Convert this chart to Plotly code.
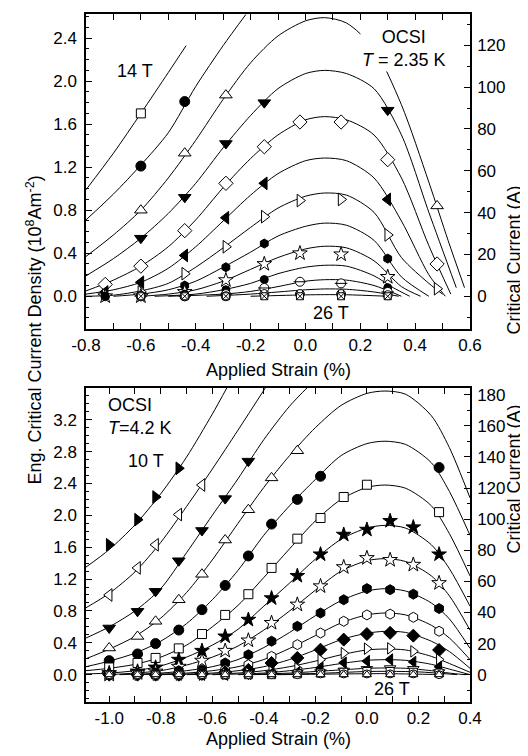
import plotly.graph_objects as go

# ---------------- top panel : OCSI, T = 2.35 K (J in 1e8 A/m2) ----------------
top_strain = [-0.73, -0.60, -0.44, -0.29, -0.15, -0.02, 0.13, 0.30, 0.48]
top_fields = [14, 15, 16, 17, 18, 19, 20, 21, 22, 23, 24, 25, 26]

tm14 = [None, 1.70, None, None, None, None, None, None, None]
tm15 = [None, 1.21, 1.81, None, None, None, None, None, None]
tm16 = [None, 0.80, 1.33, 1.87, None, None, None, None, 0.84]
tm17 = [None, 0.54, 0.92, 1.42, 1.80, None, None, 1.73, None]
tm18 = [0.11, 0.28, 0.61, 1.05, 1.39, 1.62, 1.62, 1.27, 0.30]
tm19 = [0.04, 0.13, 0.38, 0.73, 1.05, None, None, 0.90, None]
tm20 = [0.01, 0.04, 0.21, 0.46, 0.74, 0.89, 0.90, 0.57, 0.07]
tm21 = [0.00, 0.01, 0.10, 0.27, 0.49, None, None, 0.35, None]
tm22 = [0.00, 0.00, 0.04, 0.15, 0.30, 0.40, 0.39, 0.18, None]
tm23 = [0.00, 0.00, 0.02, 0.06, 0.155, None, None, 0.08, None]
tm24 = [None, 0.00, 0.00, 0.02, 0.077, 0.135, 0.12, 0.04, None]
tm25 = [None, 0.00, 0.00, 0.00, 0.02, 0.02, 0.02, 0.01, None]
tm26 = [None, 0.00, 0.00, 0.00, 0.00, 0.00, 0.00, 0.00, None]

tc14_x = [-0.8, -0.7, -0.6, -0.5, -0.435]
tc14_j = [0.99, 1.33, 1.70, 2.08, 2.33]
tc15_x = [-0.8, -0.7, -0.6, -0.5, -0.4, -0.3, -0.217]
tc15_j = [0.71, 0.95, 1.22, 1.52, 1.95, 2.33, 2.62]
tc16_x = [-0.8, -0.7, -0.6, -0.5, -0.4, -0.3, -0.2, -0.1, 0.0, 0.07, 0.15, 0.25, 0.35, 0.45, 0.52, 0.58]
tc16_j = [0.37, 0.57, 0.80, 1.10, 1.45, 1.83, 2.17, 2.42, 2.56, 2.59, 2.54, 2.30, 1.78, 1.06, 0.52, 0.08]
tc17_x = [-0.8, -0.7, -0.6, -0.5, -0.4, -0.3, -0.2, -0.1, 0.0, 0.07, 0.15, 0.25, 0.35, 0.45, 0.55]
tc17_j = [0.19, 0.35, 0.54, 0.77, 1.05, 1.38, 1.68, 1.93, 2.07, 2.10, 2.07, 1.93, 1.50, 0.78, 0.08]
tc18_x = [-0.8, -0.7, -0.6, -0.5, -0.4, -0.3, -0.2, -0.1, 0.0, 0.07, 0.15, 0.25, 0.35, 0.45, 0.53]
tc18_j = [0.05, 0.15, 0.28, 0.46, 0.71, 1.01, 1.28, 1.50, 1.64, 1.67, 1.64, 1.50, 1.10, 0.47, 0.02]
tc19_x = [-0.8, -0.7, -0.6, -0.5, -0.4, -0.3, -0.2, -0.1, 0.0, 0.07, 0.15, 0.25, 0.35, 0.45, 0.51]
tc19_j = [0.02, 0.06, 0.13, 0.26, 0.46, 0.70, 0.94, 1.14, 1.26, 1.285, 1.26, 1.10, 0.70, 0.20, 0.0]
tc20_x = [-0.8, -0.7, -0.6, -0.5, -0.4, -0.3, -0.2, -0.1, 0.0, 0.07, 0.15, 0.25, 0.35, 0.45, 0.5]
tc20_j = [0.0, 0.01, 0.05, 0.12, 0.27, 0.45, 0.64, 0.82, 0.93, 0.96, 0.94, 0.78, 0.36, 0.12, 0.02]
tc21_x = [-0.7, -0.6, -0.5, -0.4, -0.3, -0.2, -0.1, 0.0, 0.07, 0.15, 0.25, 0.35, 0.45]
tc21_j = [0.0, 0.02, 0.06, 0.14, 0.27, 0.41, 0.56, 0.65, 0.68, 0.66, 0.52, 0.18, 0.0]
tc22_x = [-0.6, -0.5, -0.4, -0.3, -0.2, -0.1, 0.0, 0.07, 0.15, 0.25, 0.35, 0.42]
tc22_j = [0.0, 0.02, 0.06, 0.14, 0.25, 0.36, 0.44, 0.465, 0.45, 0.33, 0.09, 0.0]
tc23_x = [-0.55, -0.4, -0.3, -0.2, -0.1, 0.0, 0.07, 0.15, 0.25, 0.32, 0.38]
tc23_j = [0.0, 0.02, 0.06, 0.12, 0.21, 0.27, 0.288, 0.28, 0.19, 0.08, 0.0]
tc24_x = [-0.5, -0.3, -0.2, -0.1, 0.0, 0.07, 0.15, 0.25, 0.35]
tc24_j = [0.0, 0.02, 0.045, 0.09, 0.14, 0.154, 0.15, 0.10, 0.0]
tc25_x = [-0.36, -0.2, -0.1, 0.0, 0.07, 0.15, 0.25, 0.34]
tc25_j = [0.0, 0.02, 0.04, 0.06, 0.068, 0.065, 0.04, 0.0]
tc26_x = [-0.2, 0.0, 0.07, 0.15, 0.3]
tc26_j = [0.0, 0.013, 0.015, 0.014, 0.0]

# ---------------- bottom panel : OCSI, T = 4.2 K ----------------
bot_strain = [-1.0, -0.89, -0.82, -0.73, -0.64, -0.55, -0.46, -0.37, -0.27, -0.18, -0.09, 0.0, 0.09, 0.18, 0.28]
bot_fields = [10, 11, 12, 13, 14, 15, 16, 17, 18, 19, 20, 21, 22, 23, 24, 25, 26]

bm10 = [1.63, 1.945, 2.23, 2.59, None, None, None, None, None, None, None, None, None, None, None]
bm11 = [1.00, 1.34, 1.63, 2.01, 2.38, None, None, None, None, None, None, None, None, None, None]
bm12 = [0.586, 0.795, 1.046, 1.43, 1.81, 2.21, 2.68, None, None, None, None, None, None, None, None]
bm13 = [0.335, 0.48, 0.67, 0.94, 1.26, 1.69, 2.07, 2.47, 2.81, None, None, None, None, None, None]
bm14 = [0.176, 0.26, 0.39, 0.56, 0.816, 1.12, 1.49, 1.89, 2.20, 2.49, None, None, None, None, 2.60]
bm15 = [0.09, 0.147, 0.21, 0.33, 0.51, 0.75, 1.01, 1.34, 1.707, 1.966, 2.23, 2.384, None, None, 2.04]
bm16 = [0.02, 0.04, 0.09, 0.188, 0.30, 0.48, 0.69, 0.96, 1.24, 1.51, 1.757, 1.82, 1.93, 1.85, 1.51]
bm17 = [0.0, 0.02, 0.04, 0.10, 0.176, 0.30, 0.43, 0.65, 0.88, 1.11, 1.35, 1.464, 1.44, 1.38, 1.15]
bm18 = [0.0, 0.0, 0.02, 0.05, 0.06, 0.147, 0.25, 0.42, 0.607, 0.774, 0.94, 1.08, 1.067, 1.01, 0.83]
bm19 = [0.0, 0.0, 0.0, 0.02, 0.03, 0.06, 0.125, 0.23, 0.377, 0.523, 0.67, 0.75, 0.76, 0.72, 0.545]
bm20 = [0.0, 0.0, 0.0, 0.0, 0.01, 0.03, 0.06, 0.147, 0.21, 0.314, 0.44, 0.51, 0.525, 0.49, 0.31]
bm21 = [None, 0.0, 0.0, 0.0, 0.0, 0.01, 0.02, 0.04, 0.08, 0.188, 0.27, 0.326, 0.33, 0.293, 0.19]
bm22 = [None, None, 0.0, 0.0, 0.0, 0.0, 0.01, 0.02, 0.03, 0.084, 0.15, 0.17, 0.19, 0.16, 0.10]
bm23 = [None, None, None, 0.0, 0.0, 0.0, 0.0, 0.01, 0.02, 0.03, 0.05, 0.07, 0.08, 0.07, 0.03]
bm24 = [0.0, 0.0, 0.0, 0.0, 0.0, 0.0, 0.0, 0.0, 0.01, 0.02, 0.03, 0.04, 0.04, 0.03, 0.02]
bm25 = [0.0, 0.0, 0.0, 0.0, 0.0, 0.0, 0.0, 0.0, 0.0, 0.01, 0.01, 0.01, 0.01, 0.01, 0.0]
bm26 = [0.0, 0.0, 0.0, 0.0, 0.0, 0.0, 0.0, 0.0, 0.0, 0.0, 0.0, 0.0, 0.0, 0.0, 0.0]

bgrid = [-1.09, -1.0, -0.9, -0.8, -0.7, -0.6, -0.5, -0.4, -0.3, -0.2, -0.1, 0.0, 0.07, 0.15, 0.25, 0.32, 0.4]
bc10_x = [-1.09, -1.0, -0.9, -0.8, -0.7, -0.6, -0.54]
bc10_j = [1.35, 1.57, 1.88, 2.27, 2.73, 3.27, 3.62]
bc11_x = [-1.09, -1.0, -0.9, -0.8, -0.7, -0.6, -0.5, -0.39]
bc11_j = [0.84, 1.02, 1.29, 1.66, 2.11, 2.58, 3.07, 3.62]
bc12_x = [-1.09, -1.0, -0.9, -0.8, -0.7, -0.6, -0.5, -0.4, -0.3, -0.226]
bc12_j = [0.46, 0.60, 0.80, 1.08, 1.53, 2.00, 2.46, 2.95, 3.37, 3.62]
bc13_j = [0.20, 0.32, 0.48, 0.71, 1.03, 1.44, 1.90, 2.35, 2.75, 3.10, 3.38, 3.53, 3.56, 3.52, 3.25, 2.85, 2.22]
bc14_j = [0.10, 0.17, 0.27, 0.42, 0.64, 0.94, 1.31, 1.75, 2.12, 2.45, 2.75, 2.90, 2.93, 2.89, 2.66, 2.30, 1.75]
bc15_j = [0.05, 0.08, 0.13, 0.22, 0.37, 0.60, 0.87, 1.22, 1.58, 1.93, 2.20, 2.35, 2.38, 2.34, 2.12, 1.77, 1.24]
bc16_j = [0.01, 0.02, 0.05, 0.11, 0.22, 0.37, 0.57, 0.86, 1.15, 1.45, 1.70, 1.84, 1.874, 1.84, 1.63, 1.33, 0.86]
bc17_x = [-1.0, -0.9, -0.8, -0.7, -0.6, -0.5, -0.4, -0.3, -0.2, -0.1, 0.0, 0.07, 0.15, 0.25, 0.32, 0.4]
bc17_j = [0.0, 0.02, 0.05, 0.12, 0.22, 0.36, 0.56, 0.80, 1.06, 1.30, 1.43, 1.456, 1.42, 1.24, 0.99, 0.56]
bc18_x = [-0.96, -0.8, -0.7, -0.6, -0.5, -0.4, -0.3, -0.2, -0.1, 0.0, 0.07, 0.15, 0.25, 0.32, 0.4]
bc18_j = [0.0, 0.02, 0.05, 0.10, 0.19, 0.34, 0.53, 0.74, 0.93, 1.05, 1.079, 1.05, 0.90, 0.70, 0.33]
bc19_x = [-0.9, -0.7, -0.6, -0.5, -0.4, -0.3, -0.2, -0.1, 0.0, 0.07, 0.15, 0.25, 0.32, 0.4]
bc19_j = [0.0, 0.02, 0.05, 0.10, 0.19, 0.33, 0.49, 0.65, 0.75, 0.774, 0.75, 0.62, 0.46, 0.19]
bc20_x = [-0.8, -0.6, -0.5, -0.4, -0.3, -0.2, -0.1, 0.0, 0.07, 0.15, 0.25, 0.32, 0.4]
bc20_j = [0.0, 0.02, 0.05, 0.10, 0.19, 0.31, 0.44, 0.52, 0.544, 0.53, 0.42, 0.29, 0.08]
bc21_x = [-0.7, -0.5, -0.4, -0.3, -0.2, -0.1, 0.0, 0.07, 0.15, 0.25, 0.32, 0.4]
bc21_j = [0.0, 0.02, 0.05, 0.10, 0.17, 0.25, 0.31, 0.322, 0.31, 0.23, 0.14, 0.03]
bc22_x = [-0.6, -0.4, -0.3, -0.2, -0.1, 0.0, 0.07, 0.15, 0.25, 0.32, 0.4]
bc22_j = [0.0, 0.02, 0.05, 0.09, 0.14, 0.18, 0.188, 0.18, 0.13, 0.07, 0.0]
bc23_x = [-0.5, -0.3, -0.2, -0.1, 0.0, 0.07, 0.15, 0.25, 0.32, 0.38]
bc23_j = [0.0, 0.02, 0.04, 0.06, 0.08, 0.084, 0.08, 0.05, 0.02, 0.0]
bc24_x = [-0.45, -0.2, 0.0, 0.07, 0.2, 0.35]
bc24_j = [0.0, 0.015, 0.04, 0.042, 0.035, 0.0]
bc25_x = [-0.35, 0.0, 0.07, 0.3]
bc25_j = [0.0, 0.012, 0.013, 0.0]

# right axis: critical current (A) per unit of J
top_amps_per_j = 51.43
bot_amps_per_j = 51.23

FONT = "Liberation Sans, Arial, sans-serif"

top_curves = [(tc14_x, tc14_j), (tc15_x, tc15_j), (tc16_x, tc16_j), (tc17_x, tc17_j),
              (tc18_x, tc18_j), (tc19_x, tc19_j), (tc20_x, tc20_j), (tc21_x, tc21_j),
              (tc22_x, tc22_j), (tc23_x, tc23_j), (tc24_x, tc24_j), (tc25_x, tc25_j),
              (tc26_x, tc26_j)]
top_marks = [tm14, tm15, tm16, tm17, tm18, tm19, tm20, tm21, tm22, tm23, tm24, tm25, tm26]
# (symbol, fill, size)
top_style = [("square", "white", 9), ("circle", "black", 10), ("triangle-up", "white", 11),
             ("triangle-down", "black", 11), ("diamond", "white", 11), ("triangle-left", "black", 11),
             ("triangle-right", "white", 11), ("hexagon", "black", 9), ("star", "white", 11),
             ("circle", "black", 8), ("circle", "white", 9), ("circle-x", "white", 9),
             ("square-x", "white", 7)]

bot_curves = [(bc10_x, bc10_j), (bc11_x, bc11_j), (bc12_x, bc12_j), (bgrid, bc13_j),
              (bgrid, bc14_j), (bgrid, bc15_j), (bgrid, bc16_j), (bc17_x, bc17_j),
              (bc18_x, bc18_j), (bc19_x, bc19_j), (bc20_x, bc20_j), (bc21_x, bc21_j),
              (bc22_x, bc22_j), (bc23_x, bc23_j), (bc24_x, bc24_j), (bc25_x, bc25_j)]
bot_marks = [bm10, bm11, bm12, bm13, bm14, bm15, bm16, bm17, bm18, bm19, bm20, bm21,
             bm22, bm23, bm24, bm25, bm26]
bot_style = [("triangle-right", "black", 11), ("triangle-left", "white", 11), ("triangle-down", "black", 11),
             ("triangle-up", "white", 11), ("circle", "black", 10), ("square", "white", 9),
             ("star", "black", 11), ("star", "white", 11), ("hexagon", "black", 10),
             ("hexagon", "white", 10), ("diamond", "black", 10), ("triangle-right", "white", 10),
             ("triangle-left", "black", 10), ("triangle-down", "white", 10), ("square", "white", 8),
             ("circle", "white", 8), ("triangle-up", "white", 8)]

fig = go.Figure()

for xs, js in top_curves:
    fig.add_trace(go.Scatter(x=xs, y=js, mode="lines", xaxis="x", yaxis="y",
                             line=dict(color="black", width=1, shape="spline", smoothing=0.8),
                             hoverinfo="skip"))
for xs, js in bot_curves:
    fig.add_trace(go.Scatter(x=xs, y=js, mode="lines", xaxis="x2", yaxis="y2",
                             line=dict(color="black", width=1, shape="spline", smoothing=0.8),
                             hoverinfo="skip"))

for f, m, (sym, fill, sz) in zip(top_fields, top_marks, top_style):
    fig.add_trace(go.Scatter(x=top_strain, y=m, mode="markers", xaxis="x", yaxis="y", name=f"{f} T",
                             marker=dict(symbol=sym, size=sz, color=fill,
                                         line=dict(color="black", width=1))))
    if f == 24:
        # circle with a horizontal bar
        fig.add_trace(go.Scatter(x=top_strain, y=m, mode="markers", xaxis="x", yaxis="y",
                                 marker=dict(symbol="line-ew", size=9, line=dict(color="black", width=1))))

for f, m, (sym, fill, sz) in zip(bot_fields, bot_marks, bot_style):
    fig.add_trace(go.Scatter(x=bot_strain, y=m, mode="markers", xaxis="x2", yaxis="y2", name=f"{f} T",
                             marker=dict(symbol=sym, size=sz, color=fill,
                                         line=dict(color="black", width=1))))

# empty traces so the right-hand current axes are drawn
fig.add_trace(go.Scatter(x=[None], y=[None], xaxis="x", yaxis="y3"))
fig.add_trace(go.Scatter(x=[None], y=[None], xaxis="x2", yaxis="y4"))

top_xt = [-0.8, -0.6, -0.4, -0.2, 0.0, 0.2, 0.4, 0.6]
bot_xt = [-1.0, -0.8, -0.6, -0.4, -0.2, 0.0, 0.2, 0.4]

axis_common = dict(showline=True, linecolor="black", linewidth=1.5, ticks="inside", ticklen=6,
                   tickwidth=1, tickcolor="black", showgrid=False, zeroline=False, automargin=False,
                   tickfont=dict(size=17, family=FONT, color="black"))

top_range = [-0.304, 2.624]
bot_range = [-0.343, 3.598]

fig.update_layout(
    width=528, height=756,
    margin=dict(l=78, r=66, t=6, b=62, autoexpand=False),
    paper_bgcolor="white", plot_bgcolor="white",
    showlegend=False,
    font=dict(family=FONT, size=17, color="black"),
    xaxis=dict(axis_common, domain=[0, 1], anchor="y", range=[-0.8, 0.6], mirror="allticks",
               tickmode="array", tickvals=top_xt, ticktext=[f"{v:.1f}" for v in top_xt],
               minor=dict(ticks="inside", ticklen=3, dtick=0.1, tick0=0, tickcolor="black"),
               ticklabelstandoff=0),
    yaxis=dict(axis_common, domain=[0.5422, 1], anchor="x", range=top_range,
               dtick=0.4, tick0=0, tickformat=".1f",
               minor=dict(ticks="inside", ticklen=3, dtick=0.1, tick0=0, tickcolor="black"),
               ticklabelstandoff=4),
    yaxis3=dict(axis_common, overlaying="y", anchor="x", side="right",
                range=[v * top_amps_per_j for v in top_range], dtick=20, tick0=0,
                minor=dict(ticks="inside", ticklen=3, dtick=10, tick0=0, tickcolor="black"),
                ticklabelstandoff=2),
    xaxis2=dict(axis_common, domain=[0, 1], anchor="y2", range=[-1.09, 0.4], mirror="allticks",
                tickmode="array", tickvals=bot_xt, ticktext=[f"{v:.1f}" for v in bot_xt],
                minor=dict(ticks="inside", ticklen=3, dtick=0.1, tick0=0, tickcolor="black"),
                ticklabelstandoff=0),
    yaxis2=dict(axis_common, domain=[0, 0.4564], anchor="x2", range=bot_range,
                dtick=0.4, tick0=0, tickformat=".1f",
                minor=dict(ticks="inside", ticklen=3, dtick=0.1, tick0=0, tickcolor="black"),
                ticklabelstandoff=4),
    yaxis4=dict(axis_common, overlaying="y2", anchor="x2", side="right",
                range=[v * bot_amps_per_j for v in bot_range], dtick=20, tick0=0,
                minor=dict(ticks="inside", ticklen=3, dtick=10, tick0=0, tickcolor="black"),
                ticklabelstandoff=2),
)

lab = dict(size=18, family=FONT, color="black")
annotations = [
    # panel labels
    dict(x=-0.62, y=2.09, xref="x", yref="y", text="14 T", showarrow=False, font=lab),
    dict(x=0.36, y=2.30, xref="x", yref="y", text="OCSI<br><i>T</i> = 2.35 K", showarrow=False,
         font=lab, bgcolor="white", align="center"),
    dict(x=0.095, y=-0.155, xref="x", yref="y", text="26 T", showarrow=False, font=lab),
    dict(x=-1.012, y=3.246, xref="x2", yref="y2", text="OCSI<br><i>T</i>=4.2 K", showarrow=False,
         font=lab, xanchor="left", align="left"),
    dict(x=-0.857, y=2.68, xref="x2", yref="y2", text="10 T", showarrow=False, font=lab),
    dict(x=0.096, y=-0.175, xref="x2", yref="y2", text="26 T", showarrow=False, font=lab),
    # axis titles
    dict(x=0.5, y=0.4826, xref="paper", yref="paper", text="Applied Strain (%)", showarrow=False, font=lab),
    dict(x=0.5, y=-0.0705, xref="paper", yref="paper", text="Applied Strain (%)", showarrow=False, font=lab),
    dict(x=-0.169, y=0.5407, xref="paper", yref="paper", textangle=-90, showarrow=False, font=lab,
         text="Eng. Critical Current Density (10<sup>8</sup>Am<sup>-2</sup>)"),
    dict(x=1.1458, y=0.7544, xref="paper", yref="paper", textangle=-90, showarrow=False, font=lab,
         text="Critical Current (A)"),
    dict(x=1.1458, y=0.2137, xref="paper", yref="paper", textangle=-90, showarrow=False, font=lab,
         text="Critical Current (A)"),
]
fig.update_layout(annotations=annotations)

fig.write_html("out.html")
